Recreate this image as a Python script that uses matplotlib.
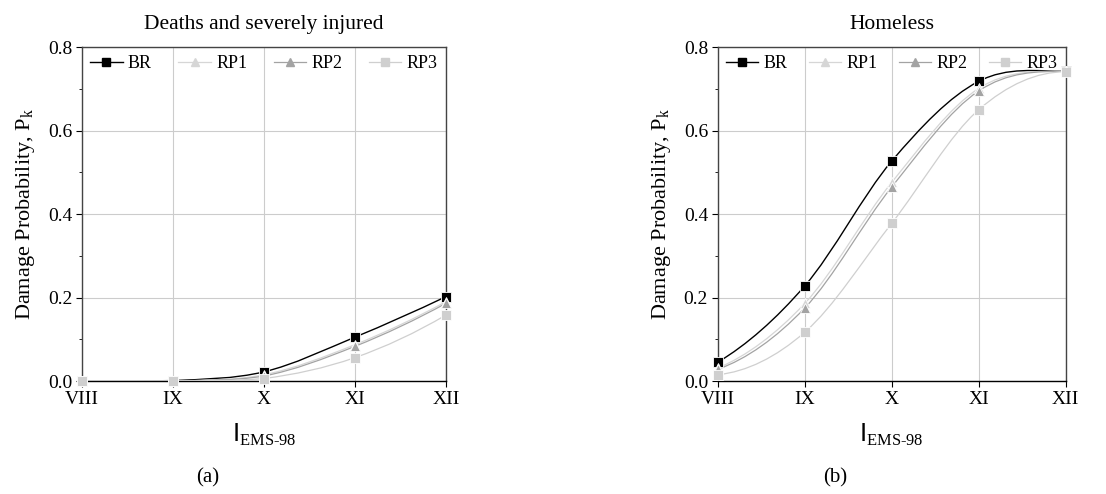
import numpy as np
import matplotlib as mpl
mpl.use("Agg")
import matplotlib.pyplot as plt
from matplotlib.path import Path
from matplotlib.patches import PathPatch
from matplotlib.lines import Line2D
from matplotlib.ticker import MultipleLocator, FormatStrFormatter

# ---- data ----
intensity = [8, 9, 10, 11, 12]
intensityLabels = ["VIII", "IX", "X", "XI", "XII"]
seriesNames = ["BR", "RP1", "RP2", "RP3"]

deathsBR  = [0.000, 0.001, 0.022, 0.105, 0.202]
deathsRP1 = [0.000, 0.000, 0.015, 0.087, 0.190]
deathsRP2 = [0.000, 0.000, 0.012, 0.083, 0.186]
deathsRP3 = [0.000, 0.000, 0.006, 0.056, 0.158]

homelessBR  = [0.045, 0.228, 0.527, 0.718, 0.742]
homelessRP1 = [0.031, 0.186, 0.476, 0.701, 0.742]
homelessRP2 = [0.028, 0.175, 0.465, 0.695, 0.742]
homelessRP3 = [0.015, 0.117, 0.378, 0.650, 0.741]


def setMatplotlibConf():
    rc_fonts = {
        "font.family": "serif",
        "font.serif": ["Liberation Serif", "DejaVu Serif"],
        "font.size": 13,
        "mathtext.fontset": "custom",
        "mathtext.rm": "Liberation Serif",
        "mathtext.sf": "DejaVu Sans",
        "xtick.direction": "out",
        "ytick.direction": "out",
        "xtick.major.size": 4.0,
        "ytick.major.size": 4.0,
        "ytick.minor.size": 2.5,
        "axes.linewidth": 1.0,
    }
    mpl.rcParams.update(rc_fonts)


def splineSlopes(x, y):
    # centred (Catmull-Rom like) tangents, ends extrapolated and clamped
    y = np.asarray(y, float)
    d = np.diff(y)
    m = np.zeros_like(y)
    m[1:-1] = (y[2:] - y[:-2]) / 2.0
    m[0] = max(2 * d[0] - m[1], 0.0)
    m[-1] = max(2 * d[-1] - m[-2], 0.0)
    return m


def smoothLine(ax, x, y, color, lw):
    m = splineSlopes(x, y)
    verts = [(x[0], y[0])]
    codes = [Path.MOVETO]
    for i in range(len(x) - 1):
        h = x[i + 1] - x[i]
        verts += [(x[i] + h / 3.0, max(y[i] + m[i] * h / 3.0, 0.0)),
                  (x[i + 1] - h / 3.0, max(y[i + 1] - m[i + 1] * h / 3.0, 0.0)),
                  (x[i + 1], y[i + 1])]
        codes += [Path.CURVE4] * 3
    patch = PathPatch(Path(verts, codes), facecolor="none", edgecolor=color,
                      lw=lw, transform=ax.transData, zorder=3)
    ax.add_patch(patch)


styles = [
    dict(color="black", marker="s", lw=1.0),
    dict(color="#d6d6d6", marker="^", lw=0.9),
    dict(color="#a3a3a3", marker="^", lw=0.9),
    dict(color="#cfcfcf", marker="s", lw=0.9),
]


def drawPanel(ax, seriesList, title):
    for values, st in zip(seriesList, styles):
        smoothLine(ax, intensity, values, st["color"], st["lw"])
        ax.plot(intensity, values, linestyle="none", marker=st["marker"],
                color=st["color"], markersize=6.5, markeredgecolor="white",
                markeredgewidth=0.6, zorder=4, clip_on=False)

    ax.set_xlim(8, 12)
    ax.set_ylim(0, 0.8)
    ax.set_xticks(intensity)
    ax.set_xticklabels(intensityLabels)
    ax.yaxis.set_major_locator(MultipleLocator(0.2))
    ax.yaxis.set_minor_locator(MultipleLocator(0.1))
    ax.yaxis.set_major_formatter(FormatStrFormatter("%.1f"))
    ax.tick_params(axis="both", which="major", labelsize=14, pad=3)
    ax.grid(True, which="major", color="#cccccc", lw=0.8)
    ax.set_axisbelow(True)
    for side in ["left", "top", "right"]:
        ax.spines[side].set_color("#444444")
    ax.spines["bottom"].set_color("black")

    ax.set_title(title, fontsize=15.5, pad=13)
    ax.set_ylabel(r"Damage Probability, P$_{\mathrm{k}}$", fontsize=16, labelpad=8)
    ax.set_xlabel(r"$\mathsf{I}_{\mathrm{EMS\text{-}98}}$", fontsize=17, labelpad=10)

    handles = [Line2D([], [], color=st["color"], lw=st["lw"], marker=st["marker"],
                      markersize=5.5) for st in styles]
    ax.legend(handles, seriesNames, loc="upper left", ncol=4, frameon=False,
              mode="expand", bbox_to_anchor=(0.0, 0.0, 1.0, 1.0),
              handlelength=1.8, handletextpad=0.3, columnspacing=0.6,
              fontsize=13, borderaxespad=0.15, borderpad=0.3)


setMatplotlibConf()

fig = plt.figure(figsize=(11.06, 4.94), dpi=100)
axA = fig.add_axes([0.0741, 0.2287, 0.329, 0.676])
axB = fig.add_axes([0.649, 0.2287, 0.3146, 0.676])

drawPanel(axA, [deathsBR, deathsRP1, deathsRP2, deathsRP3], "Deaths and severely injured")
drawPanel(axB, [homelessBR, homelessRP1, homelessRP2, homelessRP3], "Homeless")

fig.text(0.188, 0.032, "(a)", ha="center", va="center", fontsize=15)
fig.text(0.755, 0.032, "(b)", ha="center", va="center", fontsize=15)

fig.savefig("out.png", dpi=100)
